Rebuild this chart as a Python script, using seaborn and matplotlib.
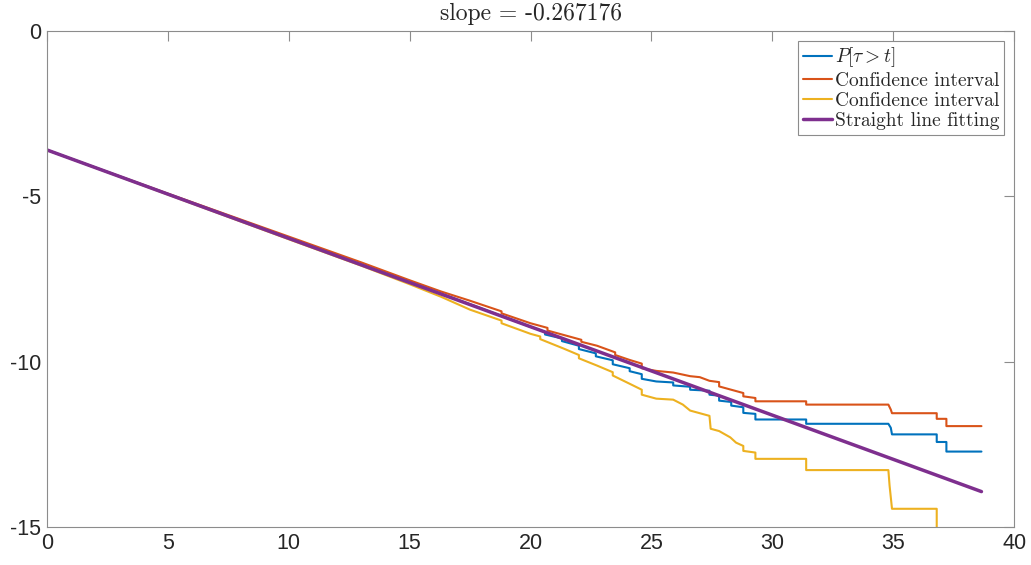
import matplotlib
matplotlib.use("Agg")
import matplotlib.pyplot as plt
import seaborn as sns

# --- Datos (log P vs t) ---
# P[tau > t]
t_emp = [0, 5, 10, 15, 18, 20, 20.6, 20.6, 21.3, 21.3, 22.0, 22.0, 22.7, 22.7, 23.4, 23.4,
         24.1, 24.1, 24.6, 24.6, 25.2, 25.9, 25.9, 26.6, 26.6, 27.4, 27.4, 27.8, 27.8,
         28.3, 28.3, 28.8, 28.8, 29.3, 29.3, 31.4, 31.4, 34.8, 34.9, 34.95, 36.8, 36.8,
         37.2, 37.2, 38.65]
logp_emp = [-3.6, -4.93, -6.26, -7.60, -8.40, -8.95, -9.10, -9.18, -9.30, -9.38, -9.52,
            -9.62, -9.75, -9.84, -9.96, -10.08, -10.2, -10.29, -10.38, -10.52, -10.6,
            -10.63, -10.72, -10.76, -10.85, -10.88, -11.0, -11.03, -11.18, -11.22, -11.33,
            -11.38, -11.55, -11.58, -11.75, -11.75, -11.88, -11.88, -12.0, -12.2, -12.2,
            -12.43, -12.43, -12.72, -12.72]

# intervalo de confianza superior
t_up = [0, 5, 10, 13, 15, 16.3, 17.5, 18.8, 18.8, 20, 20.7, 20.7, 21.4, 22.1, 22.1,
        22.75, 23.5, 23.5, 24.1, 24.6, 24.6, 25.2, 25.9, 26.6, 27.0, 27.4, 27.8, 27.8,
        28.3, 28.8, 28.8, 29.3, 29.3, 31.4, 31.4, 34.8, 34.9, 34.95, 36.8, 36.8, 37.2,
        37.2, 38.65]
logp_up = [-3.6, -4.92, -6.22, -7.0, -7.54, -7.88, -8.16, -8.48, -8.54, -8.84,
           -8.98, -9.06, -9.2, -9.34, -9.4, -9.52, -9.72, -9.8, -9.95, -10.06, -10.2,
           -10.28, -10.33, -10.44, -10.47, -10.58, -10.62, -10.75, -10.85, -10.95, -11.05,
           -11.1, -11.2, -11.2, -11.3, -11.3, -11.45, -11.56, -11.56, -11.73, -11.73,
           -11.95, -11.95]

# intervalo de confianza inferior
t_low = [0, 5, 10, 13, 15, 16.3, 17.5, 18.8, 18.8, 20, 20.4, 20.4, 21.35, 22.0,
         22.0, 22.75, 23.4, 23.4, 24.1, 24.6, 24.6, 25.2, 25.9, 26.3, 26.6, 27.4, 27.45,
         27.8, 28.26, 28.5, 28.8, 28.8, 29.3, 29.3, 31.4, 31.4, 34.8, 34.85, 34.95, 36.8,
         36.8]
logp_low = [-3.6, -4.95, -6.3, -7.1, -7.66, -8.04, -8.43, -8.76, -8.84, -9.16,
            -9.24, -9.32, -9.6, -9.8, -9.9, -10.12, -10.32, -10.42, -10.67, -10.85, -11.0,
            -11.12, -11.15, -11.3, -11.48, -11.64, -12.03, -12.1, -12.29, -12.45, -12.55,
            -12.7, -12.75, -12.94, -12.94, -13.28, -13.28, -13.75, -14.45, -14.45, -16.5]

# recta ajustada (extremos)
t_fit = [0, 38.65]
logp_fit = [-3.6, -13.93]
slope = -0.267176

# --- Estilo tipo MATLAB ---
sns.set_style("white")
plt.rcParams["font.family"] = ["Liberation Sans", "DejaVu Sans"]
plt.rcParams["mathtext.fontset"] = "cm"
plt.rcParams["axes.unicode_minus"] = False

fig = plt.figure(figsize=(10.31, 5.65), dpi=100)
ax = fig.add_axes([0.0456, 0.0673, 0.938, 0.878])

sns.lineplot(x=t_emp, y=logp_emp, ax=ax, sort=False, estimator=None,
             color="#0072BD", lw=1.5, label=r"$P[\tau > t]$")
sns.lineplot(x=t_up, y=logp_up, ax=ax, sort=False, estimator=None,
             color="#D95319", lw=1.5, label="Confidence interval")
sns.lineplot(x=t_low, y=logp_low, ax=ax, sort=False, estimator=None,
             color="#EDB120", lw=1.5, label="Confidence interval")
sns.lineplot(x=t_fit, y=logp_fit, ax=ax, sort=False, estimator=None,
             color="#7E2F8E", lw=2.5, label="Straight line fitting")

ax.set_xlim(0, 40)
ax.set_ylim(-15, 0)
ax.set_xticks(range(0, 41, 5))
ax.set_yticks([-15, -10, -5, 0])
ax.set_xlabel("")
ax.set_ylabel("")

for s in ax.spines.values():
    s.set_visible(True)
    s.set_color("#8c8c8c")
    s.set_linewidth(0.8)
ax.tick_params(direction="in", length=7, width=0.8, color="#8c8c8c",
               top=True, right=True, labelsize=15.5, labelcolor="#262626", pad=4)

ax.set_title("slope = %.6f" % slope, fontsize=17, pad=8, family="cmr10")

leg = ax.legend(loc="upper right", prop={"family": "cmr10", "size": 14},
                frameon=True, fancybox=False,
                framealpha=1, edgecolor="#8c8c8c", handlelength=1.5, handletextpad=0.15,
                borderpad=0.25, labelspacing=0.12, borderaxespad=0.5)
leg.get_frame().set_linewidth(0.8)

plt.savefig("out.png", dpi=100)
